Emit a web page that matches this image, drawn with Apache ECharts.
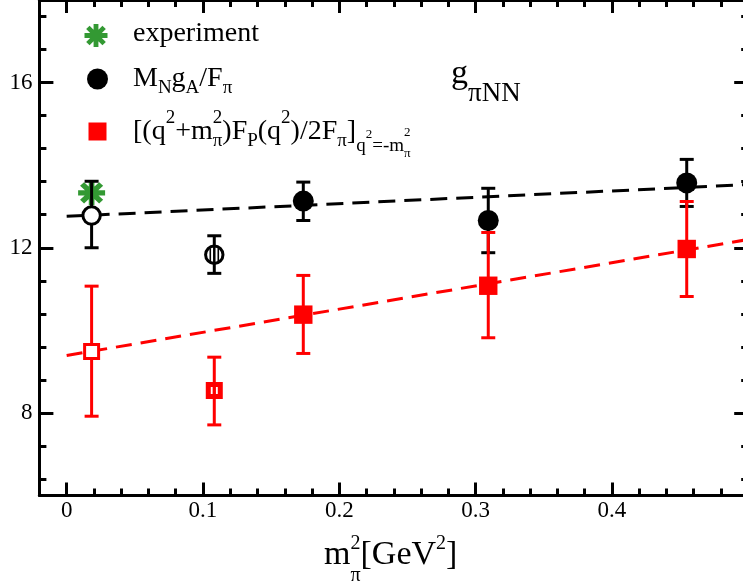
<!DOCTYPE html>
<html>
<head>
<meta charset="utf-8">
<script src="https://cdn.jsdelivr.net/npm/echarts@6/dist/echarts.min.js"></script>
<style>html,body{margin:0;padding:0;background:#fff}#c{width:743px;height:586px}</style>
</head>
<body>
<div id="c"></div>
<script>
// ---------- data ----------
const mPi2      = [0.0183, 0.1083, 0.1736, 0.3093, 0.4549];   // m_pi^2 [GeV^2]
const gMN       = [12.78, 11.83, 13.13, 12.66, 13.57];         // M_N g_A / F_pi
const gMNLow    = [12.00, 11.38, 12.66, 11.88, 13.00];
const gMNHigh   = [13.61, 12.29, 13.59, 13.44, 14.14];
const gFP       = [9.49, 8.54, 10.38, 11.08, 11.97];           // (q^2+m^2)F_P/2F_pi
const gFPLow    = [7.92, 7.71, 9.44, 9.82, 10.82];
const gFPHigh   = [11.07, 9.35, 11.33, 12.37, 13.12];
const expX      = [0.0183];
const expY      = [13.33];
const fitX      = [0, 0.5];
const fitMN     = [12.76, 13.53];
const fitFP     = [9.39, 12.20];

const xMajorTicks = [0, 0.1, 0.2, 0.3, 0.4, 0.5];
const xLabels     = [0, 0.1, 0.2, 0.3, 0.4];
const xMinorTicks = [0.02, 0.04, 0.06, 0.08, 0.12, 0.14, 0.16, 0.18, 0.22, 0.24, 0.26, 0.28,
                     0.32, 0.34, 0.36, 0.38, 0.42, 0.44, 0.46, 0.48];
const yMajorTicks = [8, 12, 16];
const yLabels     = [8, 12, 16];
const yMinorTicks = [6.4, 7.2, 8.8, 9.6, 10.4, 11.2, 12.8, 13.6, 14.4, 15.2, 16.8, 17.6];

const X_MIN = -0.02, X_MAX = 0.5, Y_MIN = 6, Y_MAX = 18;

// ---------- styling ----------
const FONT = '"Liberation Serif", "DejaVu Serif", serif';
const GREEN = '#008000', RED = '#ff0000', BLACK = '#000000';
const OPEN_INDEX = 0, HATCHED_INDEX = 1;
const CAP = 7;
const MID = 0.3375; // canvas 'middle' offset above baseline (em)

function starPath() {
  const r = 50, t = 10.5;
  let d = 'path://';
  [0, 45, 90, 135].forEach(a => {
    const c = Math.cos(a * Math.PI / 180), s = Math.sin(a * Math.PI / 180);
    const pts = [[-r, -t], [r, -t], [r, t], [-r, t]].map(([u, v]) =>
      [(50 + u * c - v * s).toFixed(2), (50 + u * s + v * c).toFixed(2)]);
    d += 'M' + pts[0].join(' ') + 'L' + pts[1].join(' ') + 'L' + pts[2].join(' ') + 'L' + pts[3].join(' ') + 'Z';
  });
  return d;
}
const STAR = starPath();

const mctx = document.createElement('canvas').getContext('2d');
function tw(text, fs) { mctx.font = fs + 'px "Liberation Serif"'; return mctx.measureText(text).width; }
function layoutText(x0, pieces) {
  const els = [];
  let x = x0;
  pieces.forEach(p => {
    const parts = p.stack || [p];
    let adv = 0;
    parts.forEach(q => {
      els.push({
        type: 'text', x: x, y: q.b - MID * q.fs, silent: true, z: 100,
        style: { text: q.t, fontSize: q.fs, fontFamily: FONT, fill: BLACK, align: 'left', verticalAlign: 'middle' }
      });
      adv = Math.max(adv, tw(q.t, q.fs));
    });
    x += adv;
  });
  return els;
}

function xAx(pos, ticks, len, showLine, labels) {
  return {
    type: 'value', gridIndex: 0, position: pos, min: X_MIN, max: X_MAX,
    axisLine: { show: showLine, onZero: false, lineStyle: { color: BLACK, width: 3 } },
    axisTick: { show: true, inside: true, length: len, customValues: ticks, lineStyle: { color: BLACK, width: 3 } },
    axisLabel: labels ? { show: true, customValues: labels, margin: 4, color: BLACK, fontSize: 23, fontFamily: FONT } : { show: false },
    splitLine: { show: false }, minorTick: { show: false }
  };
}
function yAx(pos, ticks, len, showLine, labels) {
  return {
    type: 'value', gridIndex: 0, position: pos, min: Y_MIN, max: Y_MAX,
    axisLine: { show: showLine, onZero: false, lineStyle: { color: BLACK, width: 3 } },
    axisTick: { show: true, inside: true, length: len, customValues: ticks, lineStyle: { color: BLACK, width: 3 } },
    axisLabel: labels ? { show: true, customValues: labels, margin: 7, color: BLACK, fontSize: 23, fontFamily: FONT } : { show: false },
    splitLine: { show: false }, minorTick: { show: false }
  };
}

function renderErr(color, shape) {
  return function (params, api) {
    const i = params.dataIndex;
    const x = api.value(0);
    const p = api.coord([x, api.value(1)]);
    const lo = api.coord([x, api.value(2)])[1];
    const hi = api.coord([x, api.value(3)])[1];
    const cx = p[0], cy = p[1];
    const ls = () => ({ stroke: color, lineWidth: 3 });
    const kids = [
      { type: 'line', shape: { x1: cx, y1: lo, x2: cx, y2: hi }, style: ls() },
      { type: 'line', shape: { x1: cx - CAP, y1: hi, x2: cx + CAP, y2: hi }, style: ls() },
      { type: 'line', shape: { x1: cx - CAP, y1: lo, x2: cx + CAP, y2: lo }, style: ls() }
    ];
    const open = i === OPEN_INDEX, hatched = i === HATCHED_INDEX;
    if (shape === 'circle') {
      if (open || hatched) {
        kids.push({ type: 'circle', shape: { cx: cx, cy: cy, r: 8.7 }, style: { fill: '#fff', stroke: color, lineWidth: 3 } });
      } else {
        kids.push({ type: 'circle', shape: { cx: cx, cy: cy, r: 10.5 }, style: { fill: color } });
      }
      if (hatched) {
        kids.push({ type: 'line', shape: { x1: cx, y1: cy - 8, x2: cx, y2: cy + 8 }, style: { stroke: color, lineWidth: 2.5 } });
        kids.push({ type: 'line', shape: { x1: cx - 4, y1: cy - 6.5, x2: cx - 4, y2: cy + 6.5 }, style: { stroke: color, lineWidth: 1.6 } });
        kids.push({ type: 'line', shape: { x1: cx + 4, y1: cy - 6.5, x2: cx + 4, y2: cy + 6.5 }, style: { stroke: color, lineWidth: 1.6 } });
      }
    } else {
      if (open) {
        kids.push({ type: 'rect', shape: { x: cx - 7, y: cy - 7, width: 14, height: 14 }, style: { fill: '#fff', stroke: color, lineWidth: 3 } });
      } else if (hatched) {
        kids.push({ type: 'rect', shape: { x: cx - 6, y: cy - 6, width: 12, height: 12 }, style: { fill: '#fff', stroke: color, lineWidth: 5 } });
        kids.push({ type: 'line', shape: { x1: cx, y1: cy - 6, x2: cx, y2: cy + 6 }, style: { stroke: color, lineWidth: 3.3 } });
      } else {
        kids.push({ type: 'rect', shape: { x: cx - 9.2, y: cy - 9.2, width: 18.4, height: 18.4 }, style: { fill: color } });
      }
    }
    return { type: 'group', children: kids };
  };
}

const legendCommon = {
  orient: 'vertical', padding: 0, itemGap: 0, selectedMode: false,
  formatter: () => '', textStyle: { fontSize: 1, padding: 0 }
};

// ---------- texts ----------
const M = 28, S = 19, SS = 13;
const texts = [].concat(
  layoutText(133, [{ t: 'experiment', fs: M, b: 43 }]),
  layoutText(133, [
    { t: 'M', fs: M, b: 88 }, { t: 'N', fs: S, b: 94 }, { t: 'g', fs: M, b: 88 },
    { t: 'A', fs: S, b: 94 }, { t: '/F', fs: M, b: 88 }, { t: 'π', fs: S, b: 94 }
  ]),
  layoutText(133, [
    { t: '[(q', fs: M, b: 141 }, { t: '2', fs: S, b: 124 }, { t: '+m', fs: M, b: 141 },
    { stack: [{ t: '2', fs: S, b: 124 }, { t: 'π', fs: S, b: 147 }] },
    { t: ')F', fs: M, b: 141 }, { t: 'P', fs: S, b: 147 }, { t: '(q', fs: M, b: 141 },
    { t: '2', fs: S, b: 124 }, { t: ')/2F', fs: M, b: 141 }, { t: 'π', fs: S, b: 147 },
    { t: ']', fs: M, b: 141 }, { t: 'q', fs: S, b: 152 }, { t: '2', fs: SS, b: 139 },
    { t: '=-m', fs: S, b: 152 },
    { stack: [{ t: '2', fs: SS, b: 137 }, { t: 'π', fs: SS, b: 158 }] }
  ]),
  layoutText(451, [{ t: 'g', fs: 34, b: 86 }, { t: 'πNN', fs: 27, b: 103 }]),
  layoutText(324, [
    { t: 'm', fs: 34, b: 567 },
    { stack: [{ t: '2', fs: 20, b: 550 }, { t: 'π', fs: 20, b: 582 }] },
    { t: '[GeV', fs: 34, b: 567 }, { t: '2', fs: 20, b: 550 }, { t: ']', fs: 34, b: 567 }
  ])
);

const option = {
  animation: false,
  backgroundColor: '#ffffff',
  grid: { left: 39.4, top: 0, width: 708.8, height: 495.5, containLabel: false, outerBoundsMode: 'none' },
  xAxis: [
    xAx('bottom', xMajorTicks, 13, true, xLabels),
    xAx('bottom', xMinorTicks, 7, false, null),
    xAx('top', xMajorTicks, 13, true, null),
    xAx('top', xMinorTicks, 7, false, null)
  ],
  yAxis: [
    yAx('left', yMajorTicks, 14, true, yLabels),
    yAx('left', yMinorTicks, 7, false, null),
    yAx('right', yMajorTicks, 14, true, null),
    yAx('right', yMinorTicks, 7, false, null)
  ],
  legend: [
    Object.assign({}, legendCommon, { data: [{ name: 'experiment', icon: STAR }], left: 84, top: 24, itemWidth: 24, itemHeight: 23 }),
    Object.assign({}, legendCommon, { data: [{ name: 'MN', icon: 'circle' }], left: 87, top: 68.5, itemWidth: 21, itemHeight: 21 }),
    Object.assign({}, legendCommon, { data: [{ name: 'FP', icon: 'rect' }], left: 88.5, top: 122.5, itemWidth: 18, itemHeight: 18 })
  ],
  graphic: texts,
  series: [
    { type: 'line', name: 'fitMN', data: fitX.map((x, i) => [x, fitMN[i]]), symbol: 'none', silent: true,
      lineStyle: { color: BLACK, width: 3, type: [17, 9] }, z: 1 },
    { type: 'line', name: 'fitFP', data: fitX.map((x, i) => [x, fitFP[i]]), symbol: 'none', silent: true,
      lineStyle: { color: RED, width: 3, type: [16, 9] }, z: 1 },
    { type: 'scatter', name: 'experiment', data: expX.map((x, i) => [x, expY[i]]), symbol: STAR, symbolSize: [27, 25],
      itemStyle: { color: GREEN }, z: 2 },
    { type: 'custom', name: 'MN', data: mPi2.map((x, i) => [x, gMN[i], gMNLow[i], gMNHigh[i]]),
      renderItem: renderErr(BLACK, 'circle'), itemStyle: { color: BLACK }, encode: { x: 0, y: [1, 2, 3] }, z: 3 },
    { type: 'custom', name: 'FP', data: mPi2.map((x, i) => [x, gFP[i], gFPLow[i], gFPHigh[i]]),
      renderItem: renderErr(RED, 'rect'), itemStyle: { color: RED }, encode: { x: 0, y: [1, 2, 3] }, z: 4 }
  ]
};

const chart = echarts.init(document.getElementById('c'), null, { renderer: 'canvas' });
chart.setOption(option);
</script>
</body>
</html>
